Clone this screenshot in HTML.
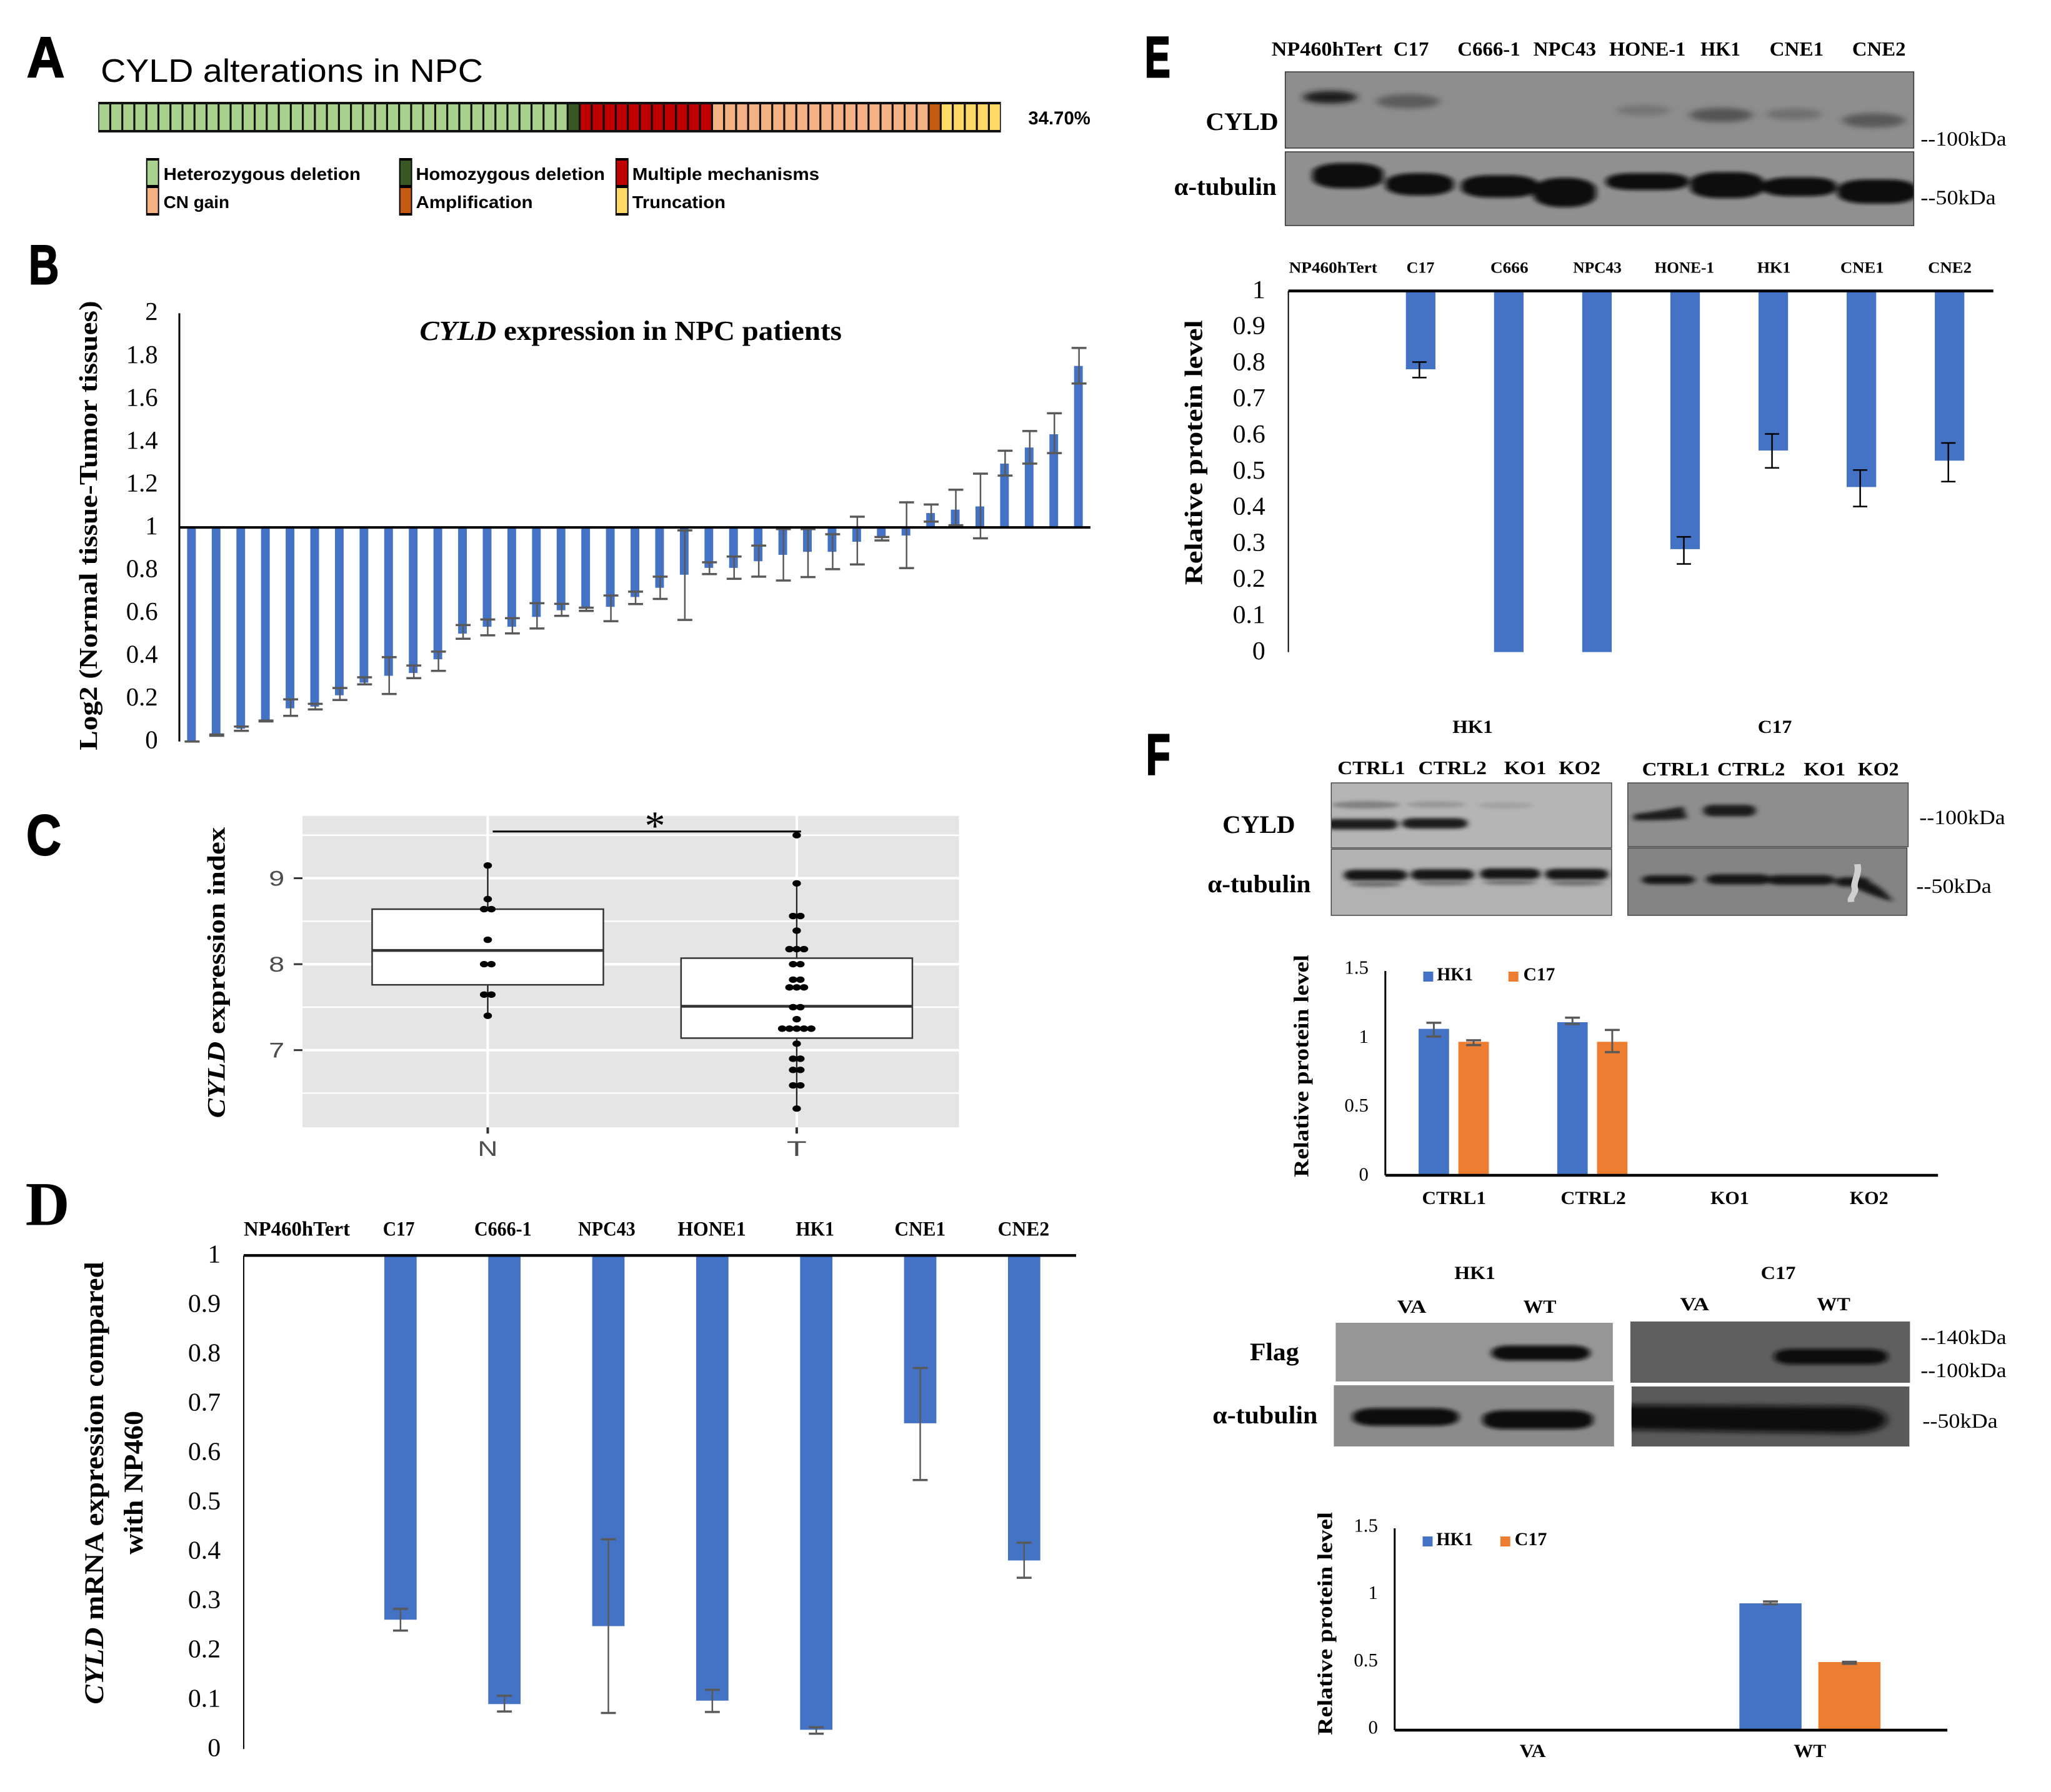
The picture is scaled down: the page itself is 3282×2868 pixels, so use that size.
<!DOCTYPE html>
<html lang="en">
<head>
<meta charset="utf-8">
<title>CYLD alterations and expression in NPC</title>
<style>
html,body{margin:0;padding:0;background:#fff}
svg{display:block}
text{fill:#000;font-family:"Liberation Serif",serif}
.sans{font-family:"Liberation Sans",sans-serif}
.b{font-weight:bold}
.tick{font-family:"Liberation Serif",serif;font-weight:normal}
</style>
</head>
<body>
<svg id="figure" xmlns="http://www.w3.org/2000/svg" width="3282" height="2868" viewBox="0 0 3282 2868">
<defs>
<filter id="blurS" x="-50%" y="-150%" width="200%" height="400%"><feGaussianBlur stdDeviation="5 9"/></filter>
<filter id="blurN" x="-50%" y="-150%" width="200%" height="400%"><feGaussianBlur stdDeviation="7 13"/></filter>
</defs>
<rect x="0" y="0" width="3282" height="2868" fill="#fff"/>

<!-- Panel A -->
<g transform="matrix(.9948 0 0 1 0 0)">
<text class="sans b" x="43" y="123" font-size="92" textLength="61" lengthAdjust="spacingAndGlyphs" stroke="#000" stroke-width="2">A</text>
<text class="sans" x="162" y="131" font-size="52" textLength="615" lengthAdjust="spacingAndGlyphs">CYLD alterations in NPC</text>
<g id="chart-a"></g>
<text class="sans b" x="1654" y="199" font-size="30" textLength="100" lengthAdjust="spacingAndGlyphs">34.70%</text>
<g>
<rect x="235" y="253" width="21" height="92" fill="#000"/>
<rect x="237" y="257" width="17" height="39" fill="#A9D18E"/>
<rect x="237" y="301" width="17" height="40" fill="#F4B183"/>
<rect x="642" y="253" width="21" height="92" fill="#000"/>
<rect x="644" y="257" width="17" height="39" fill="#385723"/>
<rect x="644" y="301" width="17" height="40" fill="#C55A11"/>
<rect x="990" y="253" width="21" height="92" fill="#000"/>
<rect x="992" y="257" width="17" height="39" fill="#C00000"/>
<rect x="992" y="301" width="17" height="40" fill="#FFD966"/>
<text class="sans b" x="263" y="288" font-size="28" textLength="317" lengthAdjust="spacingAndGlyphs">Heterozygous deletion</text>
<text class="sans b" x="263" y="333" font-size="28" textLength="106" lengthAdjust="spacingAndGlyphs">CN gain</text>
<text class="sans b" x="669" y="288" font-size="28" textLength="304" lengthAdjust="spacingAndGlyphs">Homozygous deletion</text>
<text class="sans b" x="669" y="333" font-size="28" textLength="188" lengthAdjust="spacingAndGlyphs">Amplification</text>
<text class="sans b" x="1017" y="288" font-size="28" textLength="301" lengthAdjust="spacingAndGlyphs">Multiple mechanisms</text>
<text class="sans b" x="1017" y="333" font-size="28" textLength="150" lengthAdjust="spacingAndGlyphs">Truncation</text>
</g>
</g>

<!-- Panel B -->
<g transform="matrix(.9948 0 0 .9948 0 1.976)">
<text class="sans b" x="46" y="455" font-size="90" textLength="49" lengthAdjust="spacingAndGlyphs" stroke="#000" stroke-width="2">B</text>
<text class="b" x="675" y="545" font-size="45" textLength="679" lengthAdjust="spacingAndGlyphs"><tspan font-style="italic">CYLD</tspan> expression in NPC patients</text>
<text class="b" x="156" y="1205" font-size="42" textLength="723" lengthAdjust="spacingAndGlyphs" transform="rotate(-90 156 1205)">Log2 (Normal tissue-Tumor tissues)</text>
<g id="chart-b"></g>
</g>

<!-- Panel C -->
<text class="sans b" x="42" y="1368" font-size="92" textLength="56" lengthAdjust="spacingAndGlyphs" stroke="#000" stroke-width="2">C</text>
<g transform="matrix(.9948 0 0 .9948 1.56 6.656)">
<text class="b" x="360" y="1792" font-size="40" textLength="468" lengthAdjust="spacingAndGlyphs" transform="rotate(-90 360 1792)"><tspan font-style="italic">CYLD</tspan> expression index</text>
<g id="chart-c"></g>
<line x1="791" y1="1331" x2="1287" y2="1331" stroke="#000" stroke-width="3"/>
<text x="1052" y="1344" font-size="66" text-anchor="middle">*</text>
</g>

<!-- Panel D -->
<g transform="matrix(.9948 0 0 .9948 0 9.776)">
<text class="b" x="41" y="1961" font-size="100" textLength="71" lengthAdjust="spacingAndGlyphs">D</text>
<text class="b" x="166" y="2732" font-size="44" textLength="712" lengthAdjust="spacingAndGlyphs" transform="rotate(-90 166 2732)"><tspan font-style="italic">CYLD</tspan> mRNA expression compared</text>
<text class="b" x="229" y="2491" font-size="44" textLength="231" lengthAdjust="spacingAndGlyphs" transform="rotate(-90 229 2491)">with NP460</text>
<g font-size="33" font-weight="bold">
<text class="b" x="392" y="1978" textLength="171" lengthAdjust="spacingAndGlyphs">NP460hTert</text>
<text class="b" x="616" y="1978" textLength="51" lengthAdjust="spacingAndGlyphs">C17</text>
<text class="b" x="763" y="1978" textLength="92" lengthAdjust="spacingAndGlyphs">C666-1</text>
<text class="b" x="930" y="1978" textLength="92" lengthAdjust="spacingAndGlyphs">NPC43</text>
<text class="b" x="1090" y="1978" textLength="110" lengthAdjust="spacingAndGlyphs">HONE1</text>
<text class="b" x="1280" y="1978" textLength="62" lengthAdjust="spacingAndGlyphs">HK1</text>
<text class="b" x="1439" y="1978" textLength="82" lengthAdjust="spacingAndGlyphs">CNE1</text>
<text class="b" x="1605" y="1978" textLength="83" lengthAdjust="spacingAndGlyphs">CNE2</text>
</g>
<g id="chart-d"></g>
</g>

<!-- Panel E blots -->
<g transform="matrix(.9948 0 0 1 9.36 0)">
<text class="sans b" x="1832" y="123" font-size="92" textLength="41" lengthAdjust="spacingAndGlyphs" stroke="#000" stroke-width="3">E</text>
<g font-size="32">
<text class="b" x="2036" y="89" textLength="178" lengthAdjust="spacingAndGlyphs">NP460hTert</text>
<text class="b" x="2232" y="89" textLength="57" lengthAdjust="spacingAndGlyphs">C17</text>
<text class="b" x="2335" y="89" textLength="101" lengthAdjust="spacingAndGlyphs">C666-1</text>
<text class="b" x="2457" y="89" textLength="101" lengthAdjust="spacingAndGlyphs">NPC43</text>
<text class="b" x="2579" y="89" textLength="123" lengthAdjust="spacingAndGlyphs">HONE-1</text>
<text class="b" x="2726" y="89" textLength="64" lengthAdjust="spacingAndGlyphs">HK1</text>
<text class="b" x="2837" y="89" textLength="87" lengthAdjust="spacingAndGlyphs">CNE1</text>
<text class="b" x="2970" y="89" textLength="86" lengthAdjust="spacingAndGlyphs">CNE2</text>
</g>
<svg x="2058" y="115" width="1011" height="122" viewBox="272 346 1064 364" preserveAspectRatio="none">
<rect x="272" y="346" width="1064" height="364" fill="#8e8e8e"/>
<ellipse cx="348" cy="467" rx="46" ry="30" fill="#1c1c1c" filter="url(#blurN)"/>
<ellipse cx="480" cy="487" rx="54" ry="34" fill="#5c5c5c" filter="url(#blurN)"/>
<ellipse cx="878" cy="530" rx="46" ry="26" fill="#747474" filter="url(#blurN)"/>
<ellipse cx="1010" cy="552" rx="54" ry="34" fill="#555" filter="url(#blurN)"/>
<ellipse cx="1133" cy="548" rx="48" ry="28" fill="#707070" filter="url(#blurN)"/>
<ellipse cx="1268" cy="578" rx="54" ry="34" fill="#585858" filter="url(#blurN)"/>
</svg>
<rect x="2058" y="115" width="1011" height="122" fill="none" stroke="#333" stroke-width="1.5"/>
<svg x="2058" y="243" width="1011" height="118" viewBox="272 730 1064 352" preserveAspectRatio="none">
<rect x="272" y="730" width="1064" height="352" fill="#909090"/>
<g fill="#080808" filter="url(#blurS)">
<rect x="318" y="784" width="120" height="120" rx="48" ry="45"/>
<rect x="442" y="832" width="115" height="106" rx="48" ry="42"/>
<rect x="570" y="842" width="130" height="106" rx="48" ry="42"/>
<rect x="692" y="854" width="106" height="140" rx="48" ry="55"/>
<rect x="815" y="832" width="140" height="80" rx="44" ry="32"/>
<rect x="958" y="827" width="124" height="124" rx="48" ry="45"/>
<rect x="1080" y="852" width="125" height="90" rx="44" ry="35"/>
<rect x="1207" y="862" width="135" height="115" rx="48" ry="45"/>
</g>
</svg>
<rect x="2058" y="243" width="1011" height="118" fill="none" stroke="#333" stroke-width="1.5"/>
<text class="b" x="1930" y="208" font-size="40" textLength="117" lengthAdjust="spacingAndGlyphs">CYLD</text>
<text class="b" x="1879" y="312" font-size="40" textLength="165" lengthAdjust="spacingAndGlyphs">α-tubulin</text>
<text class="tick" x="3080" y="233" font-size="33" textLength="138" lengthAdjust="spacingAndGlyphs">--100kDa</text>
<text class="tick" x="3080" y="327" font-size="33" textLength="121" lengthAdjust="spacingAndGlyphs">--50kDa</text>
</g>

<!-- Panel E chart -->
<g transform="matrix(.9948 0 0 .9948 9.36 2.028)">
<text class="b" x="1924" y="939" font-size="40" textLength="426" lengthAdjust="spacingAndGlyphs" transform="rotate(-90 1924 939)">Relative protein level</text>
<g font-size="25">
<text class="b" x="2064" y="437" textLength="142" lengthAdjust="spacingAndGlyphs">NP460hTert</text>
<text class="b" x="2253" y="437" textLength="45" lengthAdjust="spacingAndGlyphs">C17</text>
<text class="b" x="2388" y="437" textLength="61" lengthAdjust="spacingAndGlyphs">C666</text>
<text class="b" x="2521" y="437" textLength="78" lengthAdjust="spacingAndGlyphs">NPC43</text>
<text class="b" x="2652" y="437" textLength="96" lengthAdjust="spacingAndGlyphs">HONE-1</text>
<text class="b" x="2817" y="437" textLength="54" lengthAdjust="spacingAndGlyphs">HK1</text>
<text class="b" x="2951" y="437" textLength="70" lengthAdjust="spacingAndGlyphs">CNE1</text>
<text class="b" x="3092" y="437" textLength="70" lengthAdjust="spacingAndGlyphs">CNE2</text>
</g>
<g id="chart-e"></g>
</g>

<!-- Panel F -->
<g transform="matrix(.9948 0 0 1 9.36 0)">
<text class="sans b" x="1834" y="1239" font-size="92" textLength="39" lengthAdjust="spacingAndGlyphs" stroke="#000" stroke-width="3">F</text>
<text class="b" x="2327" y="1173" font-size="30" textLength="65" lengthAdjust="spacingAndGlyphs">HK1</text>
<text class="b" x="2818" y="1173" font-size="30" textLength="55" lengthAdjust="spacingAndGlyphs">C17</text>
<g font-size="31">
<text class="b" x="2142" y="1239" textLength="109" lengthAdjust="spacingAndGlyphs">CTRL1</text>
<text class="b" x="2272" y="1239" textLength="110" lengthAdjust="spacingAndGlyphs">CTRL2</text>
<text class="b" x="2410" y="1239" textLength="68" lengthAdjust="spacingAndGlyphs">KO1</text>
<text class="b" x="2498" y="1239" textLength="67" lengthAdjust="spacingAndGlyphs">KO2</text>
<text class="b" x="2632" y="1241" textLength="109" lengthAdjust="spacingAndGlyphs">CTRL1</text>
<text class="b" x="2753" y="1241" textLength="109" lengthAdjust="spacingAndGlyphs">CTRL2</text>
<text class="b" x="2892" y="1241" textLength="67" lengthAdjust="spacingAndGlyphs">KO1</text>
<text class="b" x="2979" y="1241" textLength="66" lengthAdjust="spacingAndGlyphs">KO2</text>
</g>
<svg x="2132" y="1253" width="451" height="104" viewBox="350 400 474 310" preserveAspectRatio="none">
<rect x="350" y="400" width="474" height="310" fill="#b5b5b5"/>
<ellipse cx="408" cy="505" rx="58" ry="18" fill="#808080" filter="url(#blurS)"/>
<ellipse cx="527" cy="503" rx="50" ry="15" fill="#969696" filter="url(#blurS)"/>
<ellipse cx="645" cy="508" rx="48" ry="14" fill="#a0a0a0" filter="url(#blurS)"/>
<g fill="#1c1c1c" filter="url(#blurS)">
<rect x="340" y="572" width="122" height="50" rx="15" ry="18"/>
<rect x="470" y="568" width="110" height="50" rx="20" ry="18"/>
</g>
</svg>
<rect x="2132" y="1253" width="451" height="104" fill="none" stroke="#444" stroke-width="1.5"/>
<svg x="2132" y="1359" width="451" height="106" viewBox="350 718 474 316" preserveAspectRatio="none">
<rect x="350" y="718" width="474" height="316" fill="#b2b2b2"/>
<g fill="#181818" filter="url(#blurS)">
<rect x="372" y="816" width="106" height="52" rx="18" ry="18"/>
<rect x="485" y="814" width="106" height="52" rx="18" ry="18"/>
<rect x="602" y="810" width="101" height="52" rx="18" ry="18"/>
<rect x="712" y="812" width="106" height="52" rx="18" ry="18"/>
</g>
<g fill="#6c6c6c" filter="url(#blurS)">
<ellipse cx="425" cy="885" rx="44" ry="13"/>
<ellipse cx="540" cy="880" rx="46" ry="11"/>
<ellipse cx="652" cy="877" rx="46" ry="11"/>
<ellipse cx="765" cy="880" rx="46" ry="12"/>
</g>
</svg>
<rect x="2132" y="1359" width="451" height="106" fill="none" stroke="#444" stroke-width="1.5"/>
<svg x="2609" y="1253" width="451" height="102" viewBox="852 400 474 305" preserveAspectRatio="none">
<rect x="852" y="400" width="474" height="305" fill="#8e8e8e"/>
<path d="M862 550 Q905 535 945 512 L952 570 Q905 582 862 578Z" fill="#1e1e1e" filter="url(#blurS)"/>
<rect x="980" y="505" width="88" height="55" rx="16" ry="20" fill="#1e1e1e" filter="url(#blurS)"/>
</svg>
<rect x="2609" y="1253" width="451" height="102" fill="none" stroke="#444" stroke-width="1.5"/>
<svg x="2609" y="1357" width="449" height="108" viewBox="852 712 472 322" preserveAspectRatio="none">
<rect x="852" y="712" width="472" height="322" fill="#848484"/>
<g fill="#121212" filter="url(#blurS)">
<rect x="876" y="843" width="89" height="42" rx="18" ry="18"/>
<rect x="985" y="838" width="109" height="48" rx="20" ry="20"/>
<rect x="1088" y="842" width="114" height="46" rx="20" ry="18"/>
<rect x="1203" y="852" width="58" height="44" rx="18" ry="18"/>
<path d="M1240 855 Q1280 880 1300 968 Q1258 935 1232 895Z"/>
</g>
<path d="M1240 790 C1245 830 1232 880 1236 905 C1238 930 1226 950 1230 970" fill="none" stroke="#cfcfcf" stroke-width="11"/>
</svg>
<rect x="2609" y="1357" width="449" height="108" fill="none" stroke="#444" stroke-width="1.5"/>
<text class="b" x="1957" y="1333" font-size="40" textLength="117" lengthAdjust="spacingAndGlyphs">CYLD</text>
<text class="b" x="1933" y="1428" font-size="40" textLength="166" lengthAdjust="spacingAndGlyphs">α-tubulin</text>
<text class="tick" x="3078" y="1319" font-size="33" textLength="138" lengthAdjust="spacingAndGlyphs">--100kDa</text>
<text class="tick" x="3073" y="1429" font-size="33" textLength="121" lengthAdjust="spacingAndGlyphs">--50kDa</text>

<!-- Panel F knockout chart -->
<text class="b" x="2095" y="1884" font-size="34" textLength="356" lengthAdjust="spacingAndGlyphs" transform="rotate(-90 2095 1884)">Relative protein level</text>
<rect x="2280" y="1555" width="16" height="16" fill="#4472C4"/>
<text class="b" x="2302" y="1569" font-size="30" textLength="58" lengthAdjust="spacingAndGlyphs">HK1</text>
<rect x="2417" y="1555" width="16" height="16" fill="#ED7D31"/>
<text class="b" x="2441" y="1569" font-size="30" textLength="51" lengthAdjust="spacingAndGlyphs">C17</text>
<g font-size="30">
<text class="b" x="2278" y="1927" textLength="103" lengthAdjust="spacingAndGlyphs">CTRL1</text>
<text class="b" x="2501" y="1927" textLength="105" lengthAdjust="spacingAndGlyphs">CTRL2</text>
<text class="b" x="2742" y="1927" textLength="62" lengthAdjust="spacingAndGlyphs">KO1</text>
<text class="b" x="2966" y="1927" textLength="62" lengthAdjust="spacingAndGlyphs">KO2</text>
</g>
<g id="chart-f1"></g>

<!-- Panel F overexpression blots -->
<text class="b" x="2330" y="2047" font-size="30" textLength="66" lengthAdjust="spacingAndGlyphs">HK1</text>
<text class="b" x="2823" y="2047" font-size="30" textLength="56" lengthAdjust="spacingAndGlyphs">C17</text>
<g font-size="30">
<text class="b" x="2238" y="2101" textLength="47" lengthAdjust="spacingAndGlyphs">VA</text>
<text class="b" x="2441" y="2101" textLength="53" lengthAdjust="spacingAndGlyphs">WT</text>
<text class="b" x="2693" y="2097" textLength="47" lengthAdjust="spacingAndGlyphs">VA</text>
<text class="b" x="2913" y="2097" textLength="54" lengthAdjust="spacingAndGlyphs">WT</text>
</g>
<svg x="2139" y="2117" width="446" height="94" viewBox="357 321 469 282" preserveAspectRatio="none">
<rect x="357" y="321" width="469" height="282" fill="#969696"/>
<rect x="621" y="430" width="166" height="72" rx="30" ry="30" fill="#0a0a0a" filter="url(#blurS)"/>
</svg>
<svg x="2613" y="2115" width="450" height="98" viewBox="856 315 474 293" preserveAspectRatio="none">
<rect x="856" y="315" width="474" height="293" fill="#5f5f5f"/>
<rect x="1100" y="446" width="192" height="74" rx="30" ry="30" fill="#0e0e0e" filter="url(#blurS)"/>
</svg>
<svg x="2136" y="2217" width="451" height="98" viewBox="354 621 474 293" preserveAspectRatio="none">
<rect x="354" y="621" width="474" height="293" fill="#8b8b8b"/>
<g fill="#0a0a0a" filter="url(#blurS)">
<rect x="386" y="731" width="179" height="84" rx="36" ry="34"/>
<rect x="606" y="741" width="186" height="90" rx="36" ry="34"/>
</g>
</svg>
<svg x="2615" y="2219" width="447" height="96" viewBox="858 627 470 287" preserveAspectRatio="none">
<rect x="858" y="627" width="470" height="287" fill="#5a5a5a"/>
<path d="M820 715 L1230 722 Q1290 730 1290 790 Q1285 850 1220 852 L820 832Z" fill="#0a0a0a" filter="url(#blurN)"/>
</svg>
<text class="b" x="2001" y="2177" font-size="40" textLength="79" lengthAdjust="spacingAndGlyphs">Flag</text>
<text class="b" x="1941" y="2278" font-size="40" textLength="169" lengthAdjust="spacingAndGlyphs">α-tubulin</text>
<text class="tick" x="3080" y="2151" font-size="33" textLength="138" lengthAdjust="spacingAndGlyphs">--140kDa</text>
<text class="tick" x="3080" y="2204" font-size="33" textLength="138" lengthAdjust="spacingAndGlyphs">--100kDa</text>
<text class="tick" x="3083" y="2285" font-size="33" textLength="121" lengthAdjust="spacingAndGlyphs">--50kDa</text>

<!-- Panel F overexpression chart -->
<text class="b" x="2133" y="2777" font-size="34" textLength="357" lengthAdjust="spacingAndGlyphs" transform="rotate(-90 2133 2777)">Relative protein level</text>
<rect x="2279" y="2459" width="16" height="16" fill="#4472C4"/>
<text class="b" x="2301" y="2473" font-size="30" textLength="59" lengthAdjust="spacingAndGlyphs">HK1</text>
<rect x="2404" y="2459" width="16" height="16" fill="#ED7D31"/>
<text class="b" x="2427" y="2473" font-size="30" textLength="52" lengthAdjust="spacingAndGlyphs">C17</text>
<text class="b" x="2435" y="2812" font-size="30" textLength="42" lengthAdjust="spacingAndGlyphs">VA</text>
<text class="b" x="2876" y="2812" font-size="30" textLength="52" lengthAdjust="spacingAndGlyphs">WT</text>
<g id="chart-f2"></g>
</g>
</svg>

<script>
// Panel A
const alterationTypes = ['Heterozygous deletion', 'Homozygous deletion', 'Multiple mechanisms', 'CN gain', 'Amplification', 'Truncation'];
const alterationCounts = [39, 1, 11, 18, 1, 5];

// Panel B
const patientValues = [0, 0.03, 0.06, 0.096, 0.155, 0.163, 0.216, 0.275, 0.307, 0.32, 0.384, 0.504, 0.536, 0.536, 0.582, 0.613, 0.627, 0.629, 0.675, 0.718, 0.779, 0.811, 0.811, 0.842, 0.872, 0.886, 0.886, 0.933, 0.95, 0.962, 1.067, 1.083, 1.098, 1.298, 1.373, 1.435, 1.754];
const patientErrHigh = [0, 0.033, 0.07, 0.098, 0.197, 0.176, 0.25, 0.3, 0.394, 0.355, 0.42, 0.544, 0.57, 0.576, 0.646, 0.643, 0.625, 0.682, 0.7, 0.77, 0.986, 0.837, 0.864, 0.915, 0.992, 0.992, 0.968, 1.05, 0.955, 1.117, 1.107, 1.176, 1.251, 1.358, 1.45, 1.533, 1.838];
const patientErrLow = [0, 0.027, 0.05, 0.094, 0.12, 0.15, 0.194, 0.267, 0.222, 0.296, 0.33, 0.48, 0.496, 0.505, 0.528, 0.587, 0.61, 0.562, 0.642, 0.666, 0.568, 0.782, 0.76, 0.77, 0.752, 0.768, 0.805, 0.827, 0.939, 0.81, 1.027, 1.01, 0.949, 1.242, 1.298, 1.347, 1.672];
const patientTicks = ['0', '0.2', '0.4', '0.6', '0.8', '1', '1.2', '1.4', '1.6', '1.8', '2'];

// Panel C
const boxGroups = ['N', 'T'];
const boxQ1 = [7.76, 7.14];
const boxMedian = [8.16, 7.51];
const boxQ3 = [8.64, 8.07];
const whiskerLow = [7.4, 6.33];
const whiskerHigh = [9.15, 8.94];
const boxTicks = ['7', '8', '9'];
const normalPointValues = [9.148, 8.757, 8.64, 8.284, 8.0, 7.646, 7.4];
const normalPointCounts = [1, 1, 2, 1, 2, 2, 1];
const tumorPointValues = [9.5, 8.94, 8.56, 8.39, 8.175, 8.0, 7.82, 7.73, 7.5, 7.36, 7.25, 7.075, 6.9, 6.77, 6.59, 6.32];
const tumorPointCounts = [1, 1, 2, 1, 3, 2, 2, 3, 2, 1, 5, 1, 2, 2, 2, 1];

// Panel D
const mrnaCategories = ['NP460hTert', 'C17', 'C666-1', 'NPC43', 'HONE1', 'HK1', 'CNE1', 'CNE2'];
const mrnaValues = [1, 0.262, 0.091, 0.249, 0.098, 0.039, 0.66, 0.382];
const mrnaErrHigh = [1, 0.284, 0.108, 0.425, 0.12, 0.044, 0.772, 0.418];
const mrnaErrLow = [1, 0.24, 0.076, 0.073, 0.075, 0.031, 0.545, 0.347];
const tenthTicks = ['0', '0.1', '0.2', '0.3', '0.4', '0.5', '0.6', '0.7', '0.8', '0.9', '1'];

// Panel E
const proteinCategories = ['NP460hTert', 'C17', 'C666', 'NPC43', 'HONE-1', 'HK1', 'CNE1', 'CNE2'];
const proteinValues = [1, 0.783, 0, 0, 0.285, 0.558, 0.457, 0.53];
const proteinErrHigh = [1, 0.803, 0, 0, 0.319, 0.604, 0.504, 0.579];
const proteinErrLow = [1, 0.76, 0, 0, 0.244, 0.51, 0.403, 0.472];

// Panel F charts
const halfTicks = ['0', '0.5', '1', '1.5'];
const koCategories = ['CTRL1', 'CTRL2', 'KO1', 'KO2'];
const koHk1Values = [1.053, 1.101, 0, 0];
const koHk1ErrHigh = [1.097, 1.134, 0, 0];
const koHk1ErrLow = [0.997, 1.088, 0, 0];
const koC17Values = [0.959, 0.959, 0, 0];
const koC17ErrHigh = [0.97, 1.045, 0, 0];
const koC17ErrLow = [0.935, 0.884, 0, 0];
const oeCategories = ['VA', 'WT'];
const oeHk1Values = [0, 0.926];
const oeHk1ErrHigh = [0, 0.94];
const oeHk1ErrLow = [0, 0.92];
const oeC17Values = [0, 0.493];
const oeC17ErrHigh = [0, 0.495];
const oeC17ErrLow = [0, 0.48];

const NS = 'http://www.w3.org/2000/svg';
const BLUE = '#4472C4';
const ORANGE = '#ED7D31';
const ALTERATION_FILLS = {
  'Heterozygous deletion': '#A9D18E',
  'Homozygous deletion': '#385723',
  'Multiple mechanisms': '#C00000',
  'CN gain': '#F4B183',
  'Amplification': '#C55A11',
  'Truncation': '#FFD966'
};

function mk(parent, tag, attrs) {
  const el = document.createElementNS(NS, tag);
  for (const k in attrs) el.setAttribute(k, attrs[k]);
  parent.appendChild(el);
  return el;
}

function drawErrorBar(parent, x, yHigh, yLow, color, capW, capH, lineW) {
  const stem = mk(parent, 'line', {x1: x, x2: x, y1: yHigh, y2: yLow, stroke: color, 'stroke-width': lineW});
  
  
  const top = mk(parent, 'rect', {x: x - capW / 2, y: yHigh - capH / 2, width: capW, height: capH, fill: color});
  
  
  const bottom = mk(parent, 'rect', {x: x - capW / 2, y: yLow - capH / 2, width: capW, height: capH, fill: color});
  
  
}

function drawYTicks(parent, labels, yOf, right, size, shift) {
  labels.forEach(function (label) {
    const t = mk(parent, 'text', {x: right, y: yOf(parseFloat(label)) + size * 0.34 + shift, 'font-size': size, 'text-anchor': 'end', class: 'tick'});
    t.textContent = label;
    
    
  });
}

// Panel A: alteration status strip
(function () {
  const g = document.getElementById('chart-a');
  const total = alterationCounts.reduce(function (a, b) { return a + b; }, 0);
  const left = 158, width = 1452, top = 163, height = 49;
  const cellW = width / total;
  const frame = mk(g, 'rect', {x: left, y: top, width: width, height: height, fill: '#111'});
  
  
  let idx = 0;
  alterationTypes.forEach(function (type, k) {
    for (let c = 0; c < alterationCounts[k]; c++) {
      const cell = mk(g, 'rect', {x: left + idx * cellW + 1.6, y: top + 4, width: cellW - 3.2, height: height - 8, fill: ALTERATION_FILLS[type]});
      
      
      idx++;
    }
  });
})();

// Panel B: patient waterfall chart
(function () {
  const g = document.getElementById('chart-b');
  const y = function (v) { return 1191 - v * 344.5; };
  const x = function (i) { return 308 + i * 39.63; };
  const axis = mk(g, 'line', {x1: 288.5, x2: 288.5, y1: y(2), y2: y(0), stroke: '#000', 'stroke-width': 3});
  
  
  drawYTicks(g, patientTicks, y, 254, 41, -3);
  patientValues.forEach(function (v, i) {
    const bar = mk(g, 'rect', {x: x(i) - 7, y: Math.min(y(v), y(1)), width: 14, height: Math.abs(y(v) - y(1)), fill: BLUE});
    
    
  });
  patientValues.forEach(function (v, i) {
    drawErrorBar(g, x(i) + 1, y(patientErrHigh[i]), y(patientErrLow[i]), '#595959', 24, 3.5, 2.5);
  });
  const base = mk(g, 'line', {x1: 288, x2: 1754, y1: y(1), y2: y(1), stroke: '#000', 'stroke-width': 4});
  
  
})();

// Panel C: box plot
(function () {
  const g = document.getElementById('chart-c');
  const y = function (v) { return 1544.5 - (v - 8) * 138.3; };
  const x = function (i) { return 783 + i * 497; };
  const plot = mk(g, 'rect', {x: 485, y: 1306, width: 1056, height: 501, fill: '#E5E5E5'});
  
  
  [6.5, 7.5, 8.5, 9.5].forEach(function (v) {
    const minor = mk(g, 'line', {x1: 485, x2: 1541, y1: y(v), y2: y(v), stroke: '#fff', 'stroke-width': 2.5});
    
    
  });
  boxTicks.forEach(function (label) {
    const v = parseFloat(label);
    const major = mk(g, 'line', {x1: 485, x2: 1541, y1: y(v), y2: y(v), stroke: '#fff', 'stroke-width': 4});
    
    
    const tick = mk(g, 'line', {x1: 471, x2: 485, y1: y(v), y2: y(v), stroke: '#333', 'stroke-width': 3});
    
    
    const t = mk(g, 'text', {x: 431, y: y(v) + 12, 'font-size': 34, class: 'sans', textLength: 25, lengthAdjust: 'spacingAndGlyphs', style: 'fill:#4D4D4D'});
    t.textContent = label;
    
    
  });
  boxGroups.forEach(function (name, i) {
    const vline = mk(g, 'line', {x1: x(i), x2: x(i), y1: 1306, y2: 1807, stroke: '#fff', 'stroke-width': 4});
    
    
    const tick = mk(g, 'line', {x1: x(i), x2: x(i), y1: 1807, y2: 1817, stroke: '#333', 'stroke-width': 4});
    
    
    const t = mk(g, 'text', {x: x(i) - 16, y: 1853, 'font-size': 34, class: 'sans', textLength: 32, lengthAdjust: 'spacingAndGlyphs', style: 'fill:#4D4D4D'});
    t.textContent = name;
    
    
    const whisker = mk(g, 'line', {x1: x(i), x2: x(i), y1: y(whiskerHigh[i]), y2: y(whiskerLow[i]), stroke: '#222', 'stroke-width': 2.5});
    
    
    const box = mk(g, 'rect', {x: x(i) - 186, y: y(boxQ3[i]), width: 372, height: y(boxQ1[i]) - y(boxQ3[i]), fill: '#fff', stroke: '#333', 'stroke-width': 2.5});
    
    
    const med = mk(g, 'line', {x1: x(i) - 186, x2: x(i) + 186, y1: y(boxMedian[i]), y2: y(boxMedian[i]), stroke: '#333', 'stroke-width': 4.5});
    
    
  });
  function swarm(values, counts, i) {
    values.forEach(function (v, k) {
      for (let j = 0; j < counts[k]; j++) {
        const dot = mk(g, 'ellipse', {cx: x(i) + (j - (counts[k] - 1) / 2) * 11.7, cy: y(v), rx: 6.8, ry: 5.2, fill: '#000'});
        
        
      }
    });
  }
  swarm(normalPointValues, normalPointCounts, 0);
  swarm(tumorPointValues, tumorPointCounts, 1);
})();

// Hanging bar charts (panels D and E)
function drawHanging(g, values, errHigh, errLow, ticks, o) {
  const y = function (v) { return o.y0 - v * o.unit; };
  const x = function (i) { return o.x0 + i * o.dx; };
  const axis = mk(g, 'line', {x1: o.axisX, x2: o.axisX, y1: y(1), y2: y(0), stroke: '#000', 'stroke-width': 2});
  
  
  drawYTicks(g, ticks, y, o.tickRight, o.tickSize, -3);
  values.forEach(function (v, i) {
    const bar = mk(g, 'rect', {x: x(i) - o.barW / 2, y: y(1), width: o.barW, height: y(v) - y(1), fill: BLUE});
    
    
  });
  values.forEach(function (v, i) {
    if (errHigh[i] !== errLow[i]) {
      drawErrorBar(g, x(i) + o.errShift, y(errHigh[i]), y(errLow[i]), o.errColor, o.capW, o.capH, o.errW);
    }
  });
  const top = mk(g, 'line', {x1: o.axisX, x2: o.axisEnd, y1: y(1), y2: y(1), stroke: '#000', 'stroke-width': 4.5});
  
  
}

drawHanging(document.getElementById('chart-d'), mrnaValues, mrnaErrHigh, mrnaErrLow, tenthTicks, {
  y0: 2804, unit: 794, x0: 477, dx: 167.2, axisX: 392, axisEnd: 1731, tickRight: 355, tickSize: 42,
  barW: 52, errShift: 0, errColor: '#595959', capW: 24, capH: 3.5, errW: 2.5
});
drawHanging(document.getElementById('chart-e'), proteinValues, proteinErrHigh, proteinErrLow, tenthTicks, {
  y0: 1047, unit: 581, x0: 2134, dx: 141.8, axisX: 2063, axisEnd: 3197, tickRight: 2026, tickSize: 42,
  barW: 47.5, errShift: -2, errColor: '#000', capW: 23, capH: 2.5, errW: 2.5
});

// Grouped bar charts (panel F)
function drawGrouped(g, count, seriesA, seriesB, ticks, o) {
  const y = function (v) { return o.y0 - v * o.unit; };
  const x = function (i) { return o.x0 + i * o.dx; };
  const axis = mk(g, 'line', {x1: o.axisX, x2: o.axisX, y1: o.axisTop, y2: o.axisY, stroke: '#000', 'stroke-width': 3});
  
  
  drawYTicks(g, ticks, function (v) { return o.tickY0 - v * o.tickUnit; }, o.tickRight, o.tickSize, 0);
  for (let i = 0; i < count; i++) {
    [seriesA, seriesB].forEach(function (s, k) {
      const cx = x(i) + (k === 0 ? -o.offset : o.offset);
      if (s.values[i] > 0) {
        const bar = mk(g, 'rect', {x: cx - o.barW / 2, y: y(s.values[i]), width: o.barW, height: y(0) - y(s.values[i]), fill: s.color});
        
        
        drawErrorBar(g, cx, y(s.high[i]), y(s.low[i]), '#595959', 24, 3.5, 3);
      }
    });
  }
  const base = mk(g, 'line', {x1: o.axisX, x2: o.axisEnd, y1: o.axisY, y2: o.axisY, stroke: '#000', 'stroke-width': 4.5});
  
  
}

drawGrouped(document.getElementById('chart-f1'), koCategories.length,
  {name: 'hk1', values: koHk1Values, high: koHk1ErrHigh, low: koHk1ErrLow, color: BLUE},
  {name: 'c17', values: koC17Values, high: koC17ErrHigh, low: koC17ErrLow, color: ORANGE},
  halfTicks,
  {y0: 1879, unit: 220.7, x0: 2329, dx: 223, offset: 32, barW: 49, axisX: 2219, axisTop: 1554, axisY: 1881, axisEnd: 3108, tickRight: 2192, tickSize: 31, tickY0: 1879, tickUnit: 220.7});
drawGrouped(document.getElementById('chart-f2'), oeCategories.length,
  {name: 'hk1', values: oeHk1Values, high: oeHk1ErrHigh, low: oeHk1ErrLow, color: BLUE},
  {name: 'c17', values: oeC17Values, high: oeC17ErrHigh, low: oeC17ErrLow, color: ORANGE},
  halfTicks,
  {y0: 2767, unit: 217, x0: 2455, dx: 447, offset: 63.5, barW: 100, axisX: 2234, axisTop: 2446, axisY: 2769, axisEnd: 3123, tickRight: 2207, tickSize: 31, tickY0: 2764, tickUnit: 215.5});
</script>
</body>
</html>
